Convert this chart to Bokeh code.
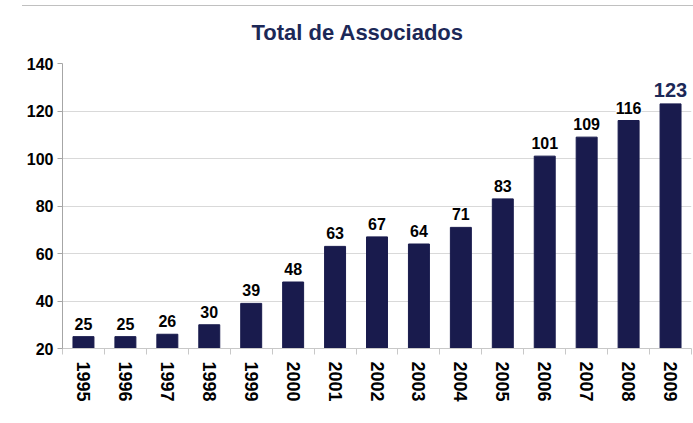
from bokeh.plotting import figure
from bokeh.models import ColumnDataSource, Range1d, FixedTicker, LabelSet, Title, Div
from bokeh.layouts import column
from bokeh.core.properties import value
from bokeh.embed import file_html
from bokeh.resources import INLINE

years = ["1995", "1996", "1997", "1998", "1999", "2000", "2001", "2002",
         "2003", "2004", "2005", "2006", "2007", "2008", "2009"]
associados = [25, 25, 26, 30, 39, 48, 63, 67, 64, 71, 83, 101, 109, 116, 123]
y_ticks = [20, 40, 60, 80, 100, 120, 140]
title_text = "Total de Associados"

BAR = "#191b4d"
NAVY = "#1c2857"

idx = list(range(len(years)))
n = len(years)
last = n - 1
src = ColumnDataSource(dict(
    x=idx, top=associados, label=[str(v) for v in associados],
    color=[NAVY if i == last else "black" for i in idx],
    size=["20px" if i == last else "16px" for i in idx],
))

p = figure(width=693, height=410, output_backend="svg", toolbar_location=None,
           x_range=Range1d(-0.5, n - 0.5), y_range=Range1d(y_ticks[0], y_ticks[-1]),
           min_border_left=62, min_border_right=2, min_border_top=52, min_border_bottom=73)
p.outline_line_color = None
# spacer between frame and title
p.add_layout(Title(text=" ", text_font_size="1px", standoff=10), "above")
p.add_layout(Title(text=title_text, text_font="Liberation Sans", text_font_size="22px",
                   text_font_style="bold", text_color=NAVY, align="left", offset=189,
                   standoff=12), "above")

p.vbar(x="x", top="top", bottom=y_ticks[0], width=0.5, source=src,
       fill_color=BAR, line_color=BAR)

labels = LabelSet(x="x", y="top", text="label", source=src, text_align="center",
                  text_baseline="bottom", y_offset=7, text_font=value("Liberation Sans"),
                  text_font_size="size", text_font_style="bold", text_color="color",
                  background_fill_color="white")
p.add_layout(labels)

p.xgrid.grid_line_color = None
p.ygrid.grid_line_color = "#d9d9d9"
p.ygrid.ticker = FixedTicker(ticks=y_ticks)

p.yaxis.ticker = FixedTicker(ticks=y_ticks)
p.yaxis.axis_line_color = "#a6a6a6"
p.yaxis.major_tick_line_color = "#a6a6a6"
p.yaxis.major_tick_out = 5
p.yaxis.major_tick_in = 0
p.yaxis.minor_tick_line_color = None
p.yaxis.major_label_text_font = "Liberation Sans"
p.yaxis.major_label_text_font_style = "bold"
p.yaxis.major_label_text_font_size = "16px"
p.yaxis.major_label_text_color = "black"
p.yaxis.major_label_standoff = 4

p.xaxis.ticker = FixedTicker(ticks=idx, minor_ticks=[i - 0.5 for i in range(n + 1)])
p.xaxis.major_label_overrides = {i: y for i, y in zip(idx, years)}
p.xaxis.major_label_orientation = "vertical"
p.xaxis.axis_line_color = "#c8c8c8"
p.xaxis.major_tick_line_color = None
p.xaxis.major_tick_out = 0
p.xaxis.major_tick_in = 0
p.xaxis.minor_tick_line_color = "#c8c8c8"
p.xaxis.minor_tick_out = 6
p.xaxis.minor_tick_in = 0
p.xaxis.major_label_text_font = "Liberation Sans"
p.xaxis.major_label_text_font_style = "bold"
p.xaxis.major_label_text_font_size = "18px"
p.xaxis.major_label_text_color = "black"
p.xaxis.major_label_standoff = 7

line = Div(width=671, height=1, styles={"background-color": "#c0c0c0", "margin-left": "22px"})
layout = column(line, p, spacing=0)

open("out.html", "w").write(file_html(layout, INLINE))
